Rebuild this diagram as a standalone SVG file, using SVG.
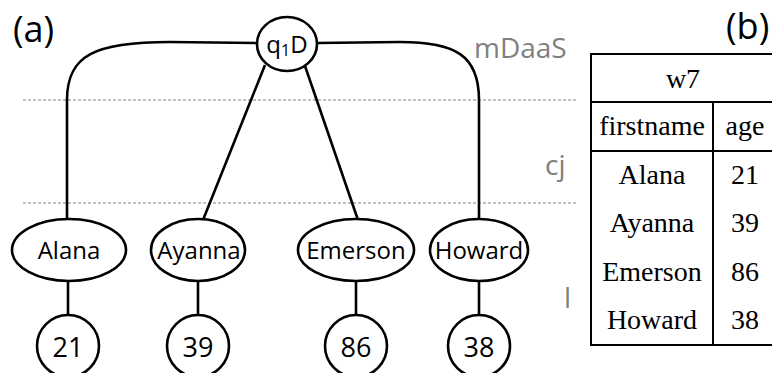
<svg xmlns="http://www.w3.org/2000/svg" width="772" height="373" viewBox="0 0 772 373">
<style>
.n{fill:#fff;stroke:#000;stroke-width:2.6}
.c{fill:none;stroke:#000;stroke-width:2.6}
.sep{stroke:#aaa;stroke-width:1.5;stroke-dasharray:3 2}
.t{font-family:"Open Sans","DejaVu Sans",sans-serif;font-size:24px;fill:#000;text-anchor:middle}
.num{font-size:27px}
.g{font-family:"Open Sans","DejaVu Sans",sans-serif;font-size:28px;fill:#808080}
.lab{font-family:"Open Sans","DejaVu Sans",sans-serif;font-size:36px;fill:#000}
.tb{fill:none;stroke:#000;stroke-width:2}
.s{font-family:"Liberation Serif","Times New Roman",serif;font-size:28px;fill:#000;text-anchor:middle}
</style>
<rect width="772" height="373" fill="#fff"/>
<text class="lab" x="13" y="42">(a)</text>
<text class="lab" x="726" y="39">(b)</text>
<line class="sep" x1="23" y1="100" x2="578" y2="100"/>
<line class="sep" x1="23" y1="203" x2="578" y2="203"/>
<text class="g" x="474" y="58">mDaaS</text>
<text class="g" x="545" y="175">cj</text>
<text class="g" x="564" y="308">l</text>
<g id="connectors">
<path class="c" d="M257,43 L170,42 C95,42 67,55 67,100 L67,219"/>
<path class="c" d="M317,43 L400,42 C455,42 479,55 479,100 L479,219"/>
<line class="c" x1="265" y1="65" x2="203" y2="220"/>
<line class="c" x1="305" y1="66" x2="358" y2="220"/>
<line class="c" x1="68" y1="281" x2="68" y2="315"/>
<line class="c" x1="198" y1="281" x2="198" y2="315"/>
<line class="c" x1="356" y1="281" x2="356" y2="315"/>
<line class="c" x1="479" y1="281" x2="479" y2="315"/>
</g>
<g id="root"><ellipse class="n" cx="287" cy="44" rx="30" ry="27"/><text class="t" x="287" y="53">q<tspan font-size="16" dy="3">1</tspan><tspan dy="-3">D</tspan></text></g>
<g id="alana"><ellipse class="n" cx="69" cy="250" rx="57" ry="31"/><text class="t" x="69" y="259">Alana</text></g>
<g id="ayanna"><ellipse class="n" cx="198" cy="250" rx="47" ry="31"/><text class="t" x="199" y="259">Ayanna</text></g>
<g id="emerson"><ellipse class="n" cx="356" cy="250" rx="58" ry="31"/><text class="t" x="356" y="259">Emerson</text></g>
<g id="howard"><ellipse class="n" cx="479" cy="250" rx="49" ry="31"/><text class="t" x="479" y="259">Howard</text></g>
<g id="v21"><circle class="n" cx="68" cy="346" r="31"/><text class="t num" x="68" y="357">21</text></g>
<g id="v39"><circle class="n" cx="198" cy="346" r="31"/><text class="t num" x="198" y="357">39</text></g>
<g id="v86"><circle class="n" cx="356" cy="346" r="31"/><text class="t num" x="356" y="357">86</text></g>
<g id="v38"><circle class="n" cx="479" cy="346" r="31"/><text class="t num" x="479" y="357">38</text></g>
<g id="table">
<rect class="tb" x="591" y="54" width="186" height="291"/>
<line class="tb" x1="591" y1="102" x2="777" y2="102"/>
<line class="tb" x1="591" y1="151" x2="777" y2="151"/>
<line class="tb" x1="713" y1="102" x2="713" y2="345"/>
<text class="s" x="683" y="88">w7</text>
<text class="s" x="652" y="135">firstname</text>
<text class="s" x="745" y="135">age</text>
<text class="s" x="652" y="184">Alana</text><text class="s" x="745" y="184">21</text>
<text class="s" x="652" y="232">Ayanna</text><text class="s" x="745" y="232">39</text>
<text class="s" x="652" y="281">Emerson</text><text class="s" x="745" y="281">86</text>
<text class="s" x="652" y="329">Howard</text><text class="s" x="745" y="329">38</text>
</g>
</svg>
